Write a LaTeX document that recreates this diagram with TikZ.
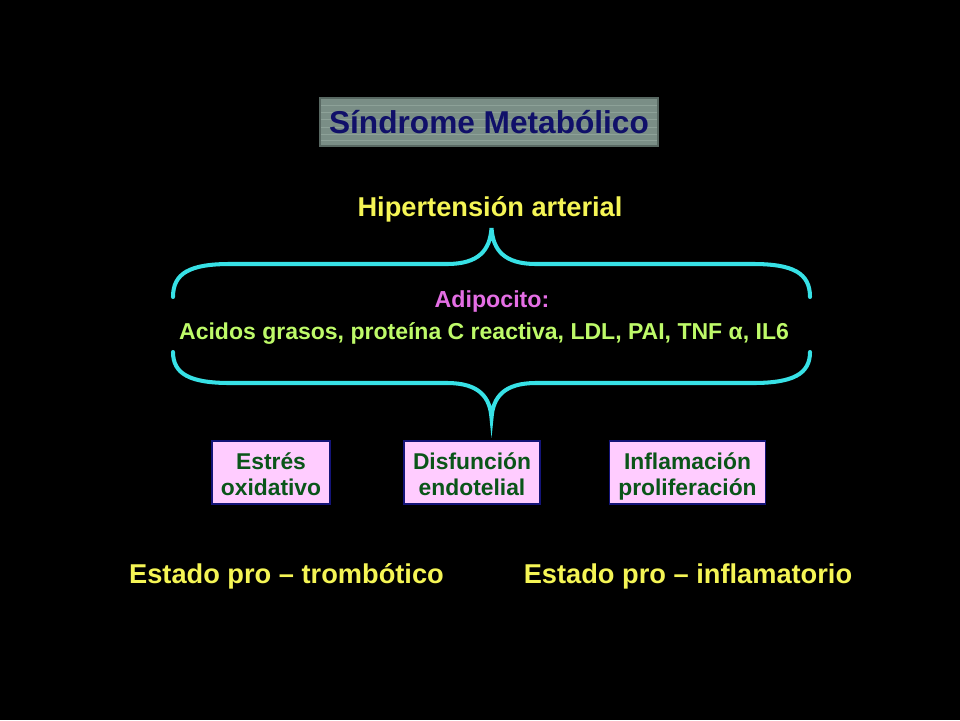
\documentclass[tikz,border=0pt]{standalone}
\usepackage{fontspec}
\setmainfont{Liberation Sans}
\definecolor{titlegray}{RGB}{122,142,134}
\definecolor{titleedge}{RGB}{88,104,98}
\definecolor{stripegray}{RGB}{165,185,176}
\definecolor{navytext}{RGB}{16,16,105}
\definecolor{hiyellow}{RGB}{245,245,85}
\definecolor{adimagenta}{RGB}{228,110,228}
\definecolor{limegreen}{RGB}{190,250,105}
\definecolor{bracecyan}{RGB}{55,225,230}
\definecolor{boxpink}{RGB}{255,204,255}
\definecolor{boxedge}{RGB}{20,20,120}
\definecolor{darkgreen}{RGB}{10,85,25}
\newcommand{\topstrut}{\rule{0pt}{16pt}}

\begin{document}
\begin{tikzpicture}[x=0.02cm,y=-0.02cm,
	yellowtext/.style={text=hiyellow,font=\fontsize{15.5}{18}\selectfont\bfseries},
	effectbox/.style={draw=boxedge,line width=1pt,fill=boxpink,text=darkgreen,align=center,
		inner xsep=5pt,inner ysep=0.3pt,minimum height=36pt,font=\fontsize{13}{14.8}\selectfont\bfseries},
	brace/.style={draw=bracecyan,line width=2.3pt,line cap=round}]
	\fill[black] (0,0) rectangle (960,720);

	% title
	\node[draw=titleedge,line width=1pt,fill=titlegray,minimum width=192.8pt,minimum height=27.2pt,inner sep=0pt] (titlebox) at (489,122) {};
	\foreach \y in {105,112,119,127,134,140}
		\draw[stripegray,opacity=0.45,line width=0.5pt] (321,\y) -- (657,\y);
	\node[text=navytext,font=\fontsize{18}{20}\selectfont\bfseries] (title) at (titlebox) {Síndrome Metabólico};

	\node[yellowtext] (hta) at (490,209) {Hipertensión arterial};

	% braces
	\draw[brace] (173,297) .. controls (173,273) and (190,264) .. (230,264) -- (447,264)
		.. controls (479,264) and (490,250) .. (491.5,228)
		.. controls (493,250) and (504,264) .. (536,264) -- (753,264)
		.. controls (793,264) and (810,273) .. (810,297);
	\draw[brace] (173,352) .. controls (173,374) and (190,383) .. (230,383) -- (447,383)
		.. controls (479,383) and (490,397) .. (491.5,418)
		.. controls (493,397) and (504,383) .. (536,383) -- (753,383)
		.. controls (793,383) and (810,374) .. (810,352);

	\node[text=adimagenta,font=\fontsize{13.2}{15}\selectfont\bfseries] (adipo) at (492,301) {Adipocito:};
	\node[text=limegreen,font=\fontsize{13.1}{15}\selectfont\bfseries] (factores) at (484,333)
		{Acidos grasos, proteína C reactiva, LDL, PAI, TNF α, IL6};

	% boxes
	\node[effectbox] (estres) at (271,472.5) {\topstrut Estrés\\oxidativo\strut};
	\node[effectbox] (disfuncion) at (472,472.5) {\topstrut Disfunción\\endotelial\strut};
	\node[effectbox] (inflam) at (687.5,472.5) {\topstrut Inflamación\\proliferación\strut};

	\node[yellowtext] (trombo) at (286.5,576) {Estado pro – trombótico};
	\node[yellowtext] (inflamat) at (688,576) {Estado pro – inflamatorio};
\end{tikzpicture}
\end{document}
